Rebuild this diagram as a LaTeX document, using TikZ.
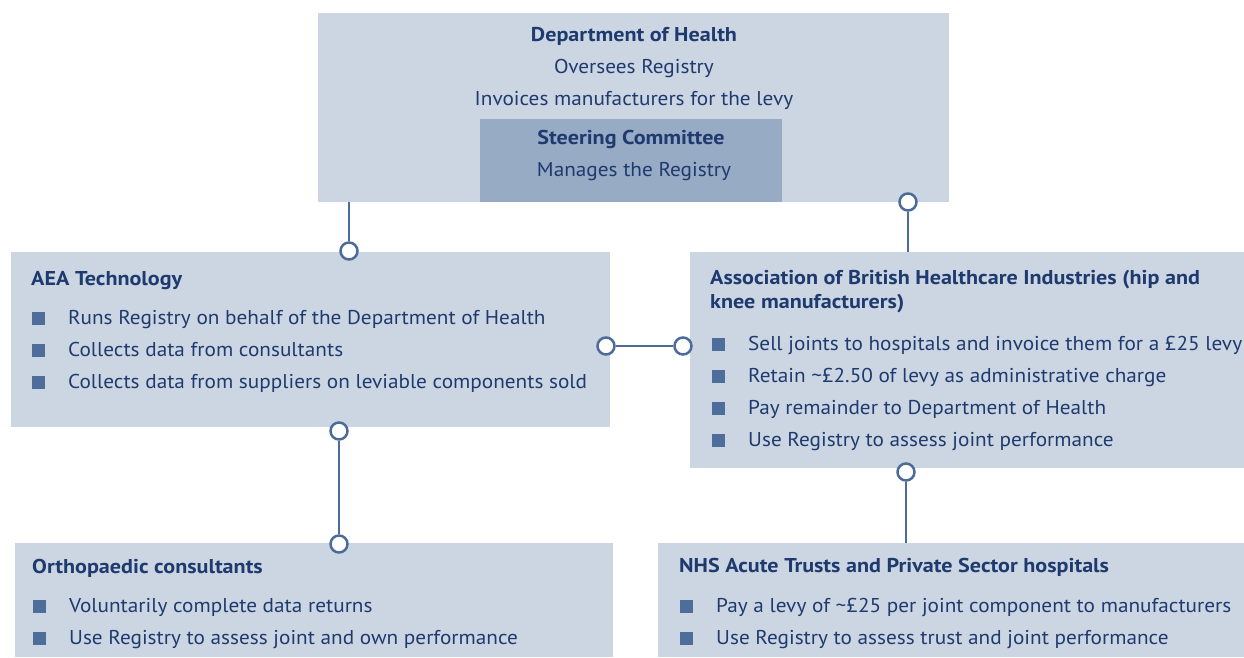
\documentclass[tikz,border=0pt]{standalone}
\usepackage{fontspec}
\setmainfont{PT Sans}[FakeStretch=1.062,BoldFeatures={FakeStretch=1.105}]
\definecolor{boxfill}{HTML}{CBD6E2}
\definecolor{innerfill}{HTML}{97ABC5}
\definecolor{ink}{HTML}{1E3A6E}
\definecolor{wire}{HTML}{4D6B98}
\definecolor{bul}{HTML}{4E6D9B}
\begin{document}
\begin{tikzpicture}[x=1pt,y=-1pt,
  box/.style={draw=none,fill=boxfill,inner sep=0pt},
  inner/.style={draw=none,fill=innerfill,inner sep=0pt},
  txt/.style={inner sep=0pt,anchor=base west,text=ink,font=\fontsize{20}{24}\selectfont},
  ctxt/.style={txt,anchor=base},
  ttl/.style={txt,font=\fontsize{20}{24}\selectfont\bfseries},
  cttl/.style={ttl,anchor=base},
  bullet/.style={fill=bul,draw=none,inner sep=0pt,minimum size=13pt},
  joint/.style={circle,draw=wire,fill=white,line width=2.5pt,inner sep=0pt,minimum size=17pt},
  wireline/.style={draw=wire,line width=2.5pt}]
\useasboundingbox (0,0) rectangle (1244,657);

% boxes
\node[box,minimum width=631pt,minimum height=189pt] (doh) at (633.5,107.5) {};
\node[inner,minimum width=302pt,minimum height=83pt] (steer) at (631,160.5) {};
\node[box,minimum width=599pt,minimum height=175pt] (aea) at (310.5,339.5) {};
\node[box,minimum width=554pt,minimum height=216pt] (abhi) at (967,360) {};
\node[box,minimum width=598pt,minimum height=114pt] (ortho) at (314,600) {};
\node[box,minimum width=586pt,minimum height=114pt] (nhs) at (951,600) {};

% connectors
\node[joint] (j1) at (349,251) {};
\node[joint] (j2) at (908,202) {};
\node[joint] (j3) at (606,346) {};
\node[joint] (j4) at (683,346) {};
\node[joint] (j5) at (339,431) {};
\node[joint] (j6) at (339,544) {};
\node[joint] (j7) at (906,472) {};
\draw[wireline] (j1.north) -- (j1.north |- doh.south);
\draw[wireline] (j2.south) -- (j2.south |- abhi.north);
\draw[wireline] (j3.east) -- (j4.west);
\draw[wireline] (j5.south) -- (j6.north);
\draw[wireline] (j7.south) -- (j7.south |- nhs.north);

% Department of Health
\node[cttl] (dohT) at (634,41) {Department of Health};
\node[ctxt] (doh1) at (634,73) {Oversees Registry};
\node[ctxt] (doh2) at (634,105) {Invoices manufacturers for the levy};
\node[cttl] (stT) at (631,144) {Steering Committee};
\node[ctxt] (st1) at (634,176) {Manages the Registry};

% AEA Technology
\node[ttl] (aeaT) at (31,285) {AEA Technology};
\node[bullet] (ab1) at (38,318) {};
\node[txt] (a1) at (68,324) {Runs Registry on behalf of the Department of Health};
\node[bullet] (ab2) at (38,350) {};
\node[txt] (a2) at (68,356) {Collects data from consultants};
\node[bullet] (ab3) at (38,382) {};
\node[txt] (a3) at (68,388) {Collects data from suppliers on leviable components sold};

% ABHI
\node[ttl] (abT1) at (710,284) {Association of British Healthcare Industries (hip and};
\node[ttl] (abT2) at (710,308) {knee manufacturers)};
\node[bullet] (bb1) at (718,344) {};
\node[txt] (b1) at (748,350) {Sell joints to hospitals and invoice them for a £25 levy};
\node[bullet] (bb2) at (718,376) {};
\node[txt] (b2) at (748,382) {Retain \textasciitilde£2.50 of levy as administrative charge};
\node[bullet] (bb3) at (718,408) {};
\node[txt] (b3) at (748,414) {Pay remainder to Department of Health};
\node[bullet] (bb4) at (718,440) {};
\node[txt] (b4) at (748,446) {Use Registry to assess joint performance};

% Orthopaedic consultants
\node[ttl] (orT) at (32,573) {Orthopaedic consultants};
\node[bullet] (ob1) at (39,606) {};
\node[txt] (o1) at (69,612) {Voluntarily complete data returns};
\node[bullet] (ob2) at (39,638) {};
\node[txt] (o2) at (69,644) {Use Registry to assess joint and own performance};

% NHS trusts
\node[ttl] (nhT) at (679,572) {NHS Acute Trusts and Private Sector hospitals};
\node[bullet] (nb1) at (686,606) {};
\node[txt] (n1) at (716,612) {Pay a levy of \textasciitilde£25 per joint component to manufacturers};
\node[bullet] (nb2) at (686,638) {};
\node[txt] (n2) at (716,644) {Use Registry to assess trust and joint performance};
\end{tikzpicture}
\end{document}
